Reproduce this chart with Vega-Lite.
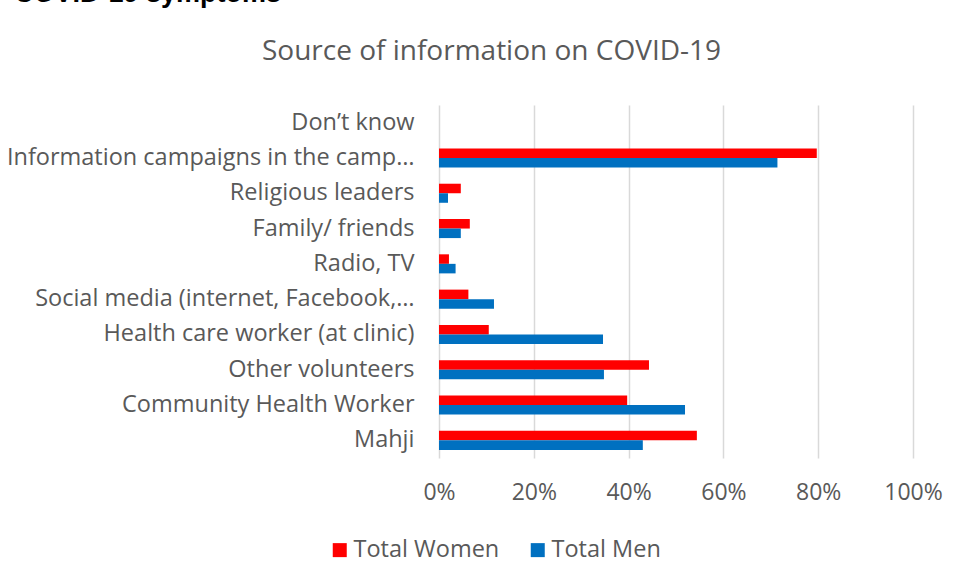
{
  "$schema": "https://vega.github.io/schema/vega-lite/v6.json",
  "autosize": "none",
  "width": 474,
  "height": 353,
  "padding": {"left": 439, "top": 105, "right": 47, "bottom": 122},
  "background": "white",
  "title": {
    "text": "COVID-19 symptoms",
    "anchor": "start",
    "frame": "group",
    "font": "Liberation Sans",
    "fontSize": 27,
    "fontWeight": "bold",
    "color": "#000000",
    "offset": 29,
    "dx": -425
  },
  "data": {
    "values": [
      {"source": "Don’t know", "series": "Total Women", "value": 0},
      {"source": "Don’t know", "series": "Total Men", "value": 0},
      {"source": "Information campaigns in the camp…", "series": "Total Women", "value": 0.797},
      {"source": "Information campaigns in the camp…", "series": "Total Men", "value": 0.714},
      {"source": "Religious leaders", "series": "Total Women", "value": 0.046},
      {"source": "Religious leaders", "series": "Total Men", "value": 0.019},
      {"source": "Family/ friends", "series": "Total Women", "value": 0.065},
      {"source": "Family/ friends", "series": "Total Men", "value": 0.046},
      {"source": "Radio, TV", "series": "Total Women", "value": 0.021},
      {"source": "Radio, TV", "series": "Total Men", "value": 0.035},
      {"source": "Social media (internet, Facebook,…", "series": "Total Women", "value": 0.062},
      {"source": "Social media (internet, Facebook,…", "series": "Total Men", "value": 0.116},
      {"source": "Health care worker (at clinic)", "series": "Total Women", "value": 0.105},
      {"source": "Health care worker (at clinic)", "series": "Total Men", "value": 0.346},
      {"source": "Other volunteers", "series": "Total Women", "value": 0.443},
      {"source": "Other volunteers", "series": "Total Men", "value": 0.348},
      {"source": "Community Health Worker", "series": "Total Women", "value": 0.397},
      {"source": "Community Health Worker", "series": "Total Men", "value": 0.519},
      {"source": "Mahji", "series": "Total Women", "value": 0.544},
      {"source": "Mahji", "series": "Total Men", "value": 0.43}
    ]
  },
  "mark": {"type": "bar", "stroke": null},
  "encoding": {
    "y": {
      "field": "source",
      "type": "nominal",
      "sort": null,
      "scale": {"paddingInner": 0.46, "paddingOuter": 0.23},
      "axis": {
        "title": null,
        "domain": false,
        "ticks": false,
        "labelFont": "Open Sans",
        "labelFontSize": 23.5,
        "labelColor": "#595959",
        "labelPadding": 25,
        "labelLimit": 0
      }
    },
    "yOffset": {
      "field": "series",
      "type": "nominal",
      "sort": ["Total Women", "Total Men"],
      "scale": {"paddingInner": 0, "paddingOuter": 0}
    },
    "x": {
      "field": "value",
      "type": "quantitative",
      "scale": {"domain": [0, 1], "nice": false},
      "axis": {
        "title": "Source of information on COVID-19",
        "titleFont": "Open Sans",
        "titleFontSize": 28,
        "titleFontWeight": "normal",
        "titleColor": "#595959",
        "titleX": 52,
        "titleY": -399,
        "titleAlign": "center",
        "titleBaseline": "alphabetic",
        "format": ".0%",
        "values": [0, 0.2, 0.4, 0.6, 0.8, 1],
        "domain": false,
        "ticks": false,
        "grid": true,
        "gridColor": "#D9D9D9",
        "gridWidth": 1.5,
        "labelFont": "Open Sans",
        "labelFontSize": 23,
        "labelColor": "#595959",
        "labelPadding": 23,
        "labelFlush": false
      }
    },
    "color": {
      "field": "series",
      "type": "nominal",
      "sort": ["Total Women", "Total Men"],
      "scale": {"domain": ["Total Women", "Total Men"], "range": ["#FF0000", "#0070C0"]},
      "legend": {
        "title": null,
        "orient": "none",
        "direction": "horizontal",
        "legendX": -111,
        "legendY": 433,
        "symbolType": "square",
        "symbolSize": 196,
        "symbolStrokeWidth": 0,
        "labelFont": "Open Sans",
        "labelFontSize": 23.5,
        "labelColor": "#595959",
        "columnPadding": 26,
        "labelOffset": 2
      }
    }
  },
  "config": {
    "view": {"stroke": null}
  }
}
